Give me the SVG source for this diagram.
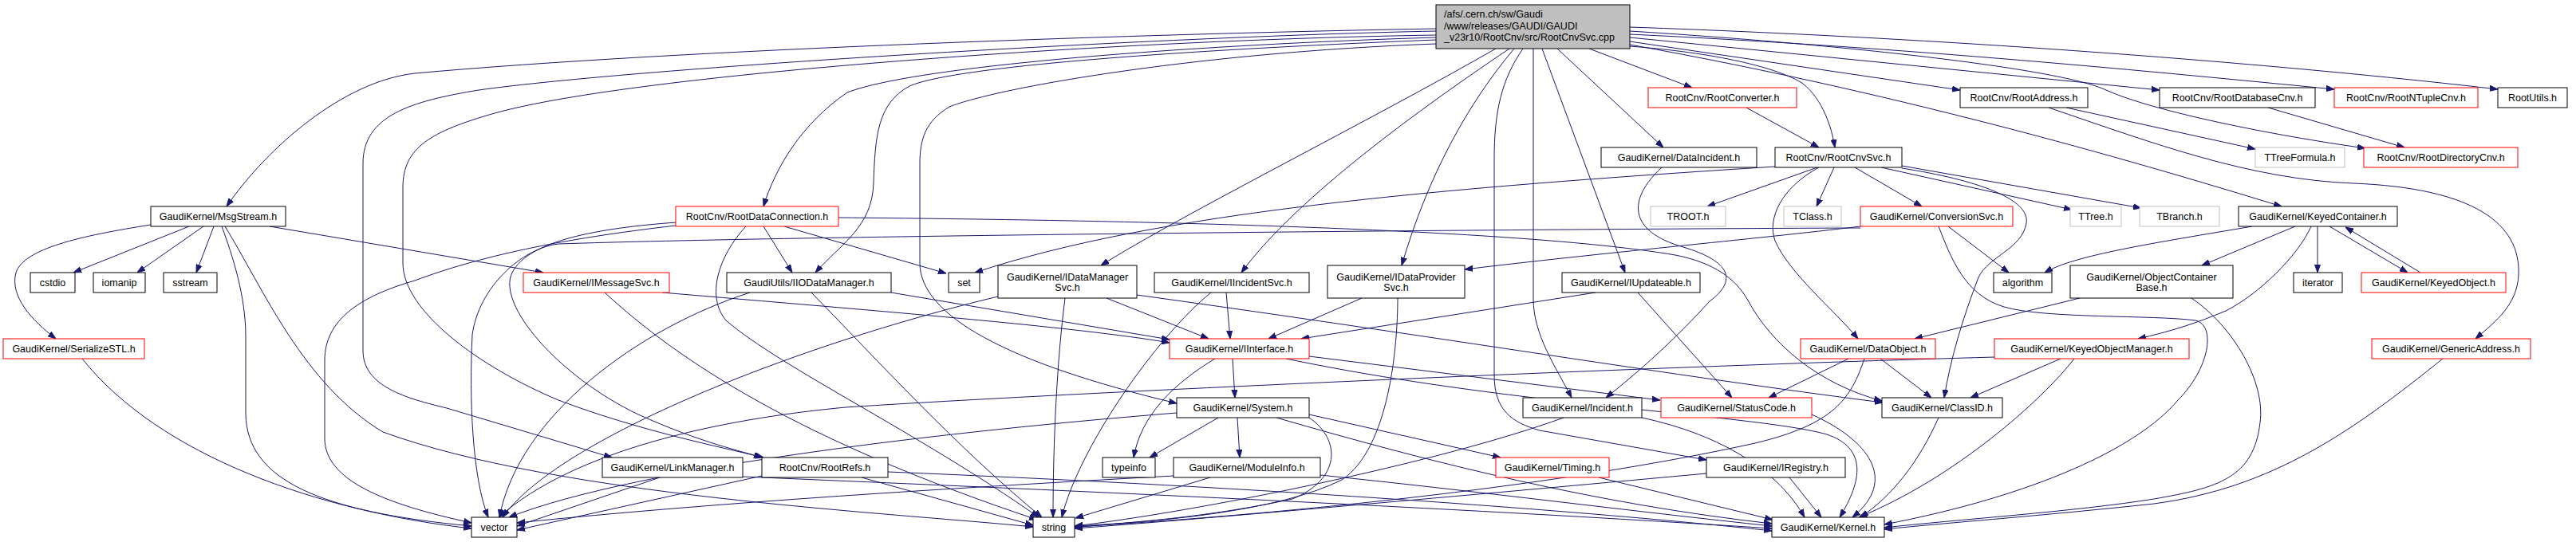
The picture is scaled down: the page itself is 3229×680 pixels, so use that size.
<svg xmlns="http://www.w3.org/2000/svg" width="3229" height="680" viewBox="0 0 3229 680">
<style>
.node rect{fill:#fff;stroke:#000;stroke-width:1}
.node.r rect{stroke:#ff0000}
.node.g rect{stroke:#bfbfbf}
.node.root rect{fill:#bfbfbf}
text{font-family:"Liberation Sans",Arial,Helvetica,sans-serif;font-size:12.5px;fill:#000;text-anchor:middle}
.node.root text{text-anchor:start}
#edges path{fill:none;stroke:#191970;stroke-width:1;marker-end:url(#a)}
</style>
<defs>
<marker id="a" markerWidth="10" markerHeight="8" refX="10" refY="4" orient="auto" markerUnits="userSpaceOnUse"><path d="M0,0.5 L10,4 L0,7.5 z" fill="#191970" stroke="#191970" stroke-width="1"/></marker>
</defs>
<rect width="3229" height="680" fill="#fff"/>
<g id="edges">
<path d="M1800,36 C1450,42 850,62 520,92 C430,102 335,185 284,259"/>
<path d="M1800,39 C1450,46 800,85 600,113 C515,127 455,145 455,205 L455,440 C455,485 510,500 560,512 L767,574"/>
<path d="M1800,44 C1400,50 800,92 620,142 C540,165 505,185 505,235 L505,330 C505,390 600,460 700,502 C800,540 900,560 957,574"/>
<path d="M1800,47 C1500,56 1150,82 1062,116 C1005,155 972,210 957,259"/>
<path d="M1800,50 C1500,62 1200,82 1140,108 C1100,130 1097,170 1095,230 C1093,285 1055,305 1022,342"/>
<path d="M1800,55 C1500,66 1250,110 1190,134 C1160,152 1153,175 1153,205 L1153,330 C1153,395 1260,455 1475,506"/>
<path d="M1875,61 C1720,150 1480,270 1380,333"/>
<path d="M1892,61 C1760,150 1620,255 1556,342"/>
<path d="M1898,61 C1840,130 1790,220 1757,333"/>
<path d="M1909,61 C1882,100 1873,140 1873,200 L1873,470 C1873,515 1895,530 1930,540 L2139,577"/>
<path d="M1922,61 L1922,375 C1922,420 1950,460 1970,499"/>
<path d="M1933,61 L2037,342"/>
<path d="M1952,61 L2085,185"/>
<path d="M1992,61 L2121,110"/>
<path d="M2043,58 C2150,66 2230,85 2260,105 C2285,125 2296,160 2300,185"/>
<path d="M2043,52 L2457,113"/>
<path d="M2043,47 L2707,113"/>
<path d="M2043,43 C2400,60 2700,90 2926,112"/>
<path d="M2043,34 C2500,50 2900,85 3131,112"/>
<path d="M2043,39 C2300,55 2580,85 2640,113 C2700,140 2850,170 2965,186"/>
<path d="M2043,56 C2400,120 2700,210 2860,259"/>
<path d="M2189,135 L2280,185"/>
<path d="M2590,135 L2827,187"/>
<path d="M2568,135 C2700,180 2820,225 2950,230 C3100,236 3160,280 3157,345 C3155,382 3130,402 3103,425"/>
<path d="M2843,135 L3014,185"/>
<path d="M2083,210 C2040,250 2040,290 2110,310 C2170,328 2178,352 2143,378 C2105,420 2060,462 2013,499"/>
<path d="M2278,210 L2140,259"/>
<path d="M2299,210 L2277,259"/>
<path d="M2325,210 L2409,259"/>
<path d="M2358,210 L2597,263"/>
<path d="M2384,208 L2684,261"/>
<path d="M2384,211 C2480,226 2545,250 2540,280 C2535,312 2492,322 2480,348 C2460,400 2445,450 2437,499"/>
<path d="M2280,210 C2232,236 2215,275 2225,302 C2242,342 2300,390 2329,425"/>
<path d="M2225,209 C1800,236 1450,266 1222,342"/>
<path d="M2332,284 C2200,300 2000,318 1836,338"/>
<path d="M2442,284 L2518,342"/>
<path d="M2332,286 C1800,288 1000,296 700,306 C655,311 600,360 592,420 C588,500 592,600 612,649"/>
<path d="M2430,284 C2445,322 2462,370 2512,385 C2562,400 2700,395 2752,402 C2778,408 2770,462 2730,502 C2680,562 2550,622 2362,658"/>
<path d="M2823,284 C2700,305 2600,320 2563,342"/>
<path d="M2877,284 L2760,333"/>
<path d="M2897,284 C2880,322 2830,370 2790,390 C2752,406 2720,416 2680,425"/>
<path d="M2905,284 L2905,342"/>
<path d="M2920,284 L3018,342"/>
<path d="M3034,342 L2940,285"/>
<path d="M2607,374 L2400,425"/>
<path d="M2747,374 C2800,410 2840,480 2833,530 C2825,600 2780,612 2700,626 C2600,642 2450,652 2362,662"/>
<path d="M2583,450 L2470,499"/>
<path d="M2600,450 C2560,502 2450,600 2330,649"/>
<path d="M2500,448 C2000,462 1300,495 1060,511 C900,526 720,565 625,649"/>
<path d="M3062,450 C2950,540 2850,612 2700,632 C2550,648 2450,655 2362,664"/>
<path d="M2317,450 L2217,499"/>
<path d="M2357,450 L2421,499"/>
<path d="M2337,450 C2320,500 2300,532 2200,556 C1900,622 1500,652 1347,661"/>
<path d="M2000,367 L1631,425"/>
<path d="M2053,367 L2171,499"/>
<path d="M1523,450 C1470,482 1430,522 1421,574"/>
<path d="M1545,450 L1548,499"/>
<path d="M1641,447 L2081,502"/>
<path d="M1612,450 C1900,510 2200,520 2290,545 C2340,562 2335,602 2306,649"/>
<path d="M1527,524 L1441,574"/>
<path d="M1551,524 L1554,574"/>
<path d="M1475,518 C1200,540 800,585 638,649"/>
<path d="M1641,520 L1881,574"/>
<path d="M1641,524 C1682,552 1680,602 1620,626 C1500,652 1400,656 1347,662"/>
<path d="M1600,524 C1800,582 2000,632 2221,657"/>
<path d="M1517,599 L1348,650"/>
<path d="M1471,597 C1200,612 900,630 648,656"/>
<path d="M1655,596 C1850,616 2050,642 2221,660"/>
<path d="M2004,599 L2222,652"/>
<path d="M1960,524 C1800,582 1500,642 1347,660"/>
<path d="M2058,524 C2160,546 2230,592 2262,649"/>
<path d="M2139,594 C1900,616 1500,652 1347,663"/>
<path d="M2243,599 L2283,649"/>
<path d="M2271,520 C2342,552 2380,602 2322,649"/>
<path d="M2430,524 C2405,580 2372,622 2332,649"/>
<path d="M827,599 L648,660"/>
<path d="M931,598 C1500,622 1900,642 2221,663"/>
<path d="M955,597 L648,665"/>
<path d="M1080,599 L1295,659"/>
<path d="M1113,592 C1600,612 2000,642 2221,666"/>
<path d="M1251,372 C1000,432 700,550 630,649"/>
<path d="M1335,374 C1325,452 1320,552 1320,649"/>
<path d="M1387,374 L1515,425"/>
<path d="M1425,370 C1800,422 2100,472 2360,505"/>
<path d="M1518,367 C1450,422 1352,562 1331,649"/>
<path d="M1537,367 L1542,425"/>
<path d="M1707,374 L1590,425"/>
<path d="M1752,374 C1752,432 1742,562 1682,602 C1602,642 1450,655 1347,660"/>
<path d="M830,367 C1100,390 1350,410 1466,430"/>
<path d="M758,367 C850,452 1000,552 1300,652"/>
<path d="M1117,367 L1466,426"/>
<path d="M940,367 C800,412 650,522 626,649"/>
<path d="M1017,367 C1100,452 1200,562 1306,649"/>
<path d="M957,284 L993,342"/>
<path d="M983,284 L1186,343"/>
<path d="M935,284 C900,322 885,372 910,402 C980,462 1150,542 1302,649"/>
<path d="M847,283 C700,300 600,322 520,352 C450,372 407,402 407,452 L407,550 C407,602 480,632 591,656"/>
<path d="M848,279 C750,286 662,302 642,342 C622,382 700,472 800,520 C880,556 930,566 955,574"/>
<path d="M1051,273 C1400,276 1900,286 2100,320 C2150,330 2175,350 2190,375 C2220,432 2280,482 2359,503"/>
<path d="M189,282 C100,296 30,312 20,342 C12,372 40,402 70,425"/>
<path d="M237,284 L92,342"/>
<path d="M255,284 L172,342"/>
<path d="M268,284 L246,342"/>
<path d="M278,284 C292,322 308,372 308,422 L308,520 C310,602 400,642 591,660"/>
<path d="M282,284 C330,362 380,482 480,542 C700,622 1100,642 1295,661"/>
<path d="M338,284 L681,342"/>
<path d="M103,450 C200,572 400,642 591,663"/>
</g>
<g id="n_root" class="node root"><rect x="1800" y="6" width="243" height="55"/><text x="1810" y="22">/afs/.cern.ch/sw/Gaudi</text><text x="1810" y="37">/www/releases/GAUDI/GAUDI</text><text x="1810" y="51">_v23r10/RootCnv/src/RootCnvSvc.cpp</text></g>
<g id="n_RootConverter" class="node r"><rect x="2066" y="110" width="186" height="25"/><text x="2159" y="127">RootCnv/RootConverter.h</text></g>
<g id="n_RootAddress" class="node"><rect x="2457" y="110" width="160" height="25"/><text x="2537" y="127">RootCnv/RootAddress.h</text></g>
<g id="n_RootDatabaseCnv" class="node"><rect x="2707" y="110" width="195" height="25"/><text x="2804.5" y="127">RootCnv/RootDatabaseCnv.h</text></g>
<g id="n_RootNTupleCnv" class="node r"><rect x="2926" y="110" width="180" height="25"/><text x="3016" y="127">RootCnv/RootNTupleCnv.h</text></g>
<g id="n_RootUtils" class="node"><rect x="3131" y="110" width="87" height="25"/><text x="3174.5" y="127">RootUtils.h</text></g>
<g id="n_DataIncident" class="node"><rect x="2007" y="185" width="195" height="25"/><text x="2104.5" y="202">GaudiKernel/DataIncident.h</text></g>
<g id="n_RootCnvSvc" class="node"><rect x="2225" y="185" width="159" height="25"/><text x="2304.5" y="202">RootCnv/RootCnvSvc.h</text></g>
<g id="n_TTreeFormula" class="node g"><rect x="2827" y="185" width="112" height="25"/><text x="2883" y="202">TTreeFormula.h</text></g>
<g id="n_RootDirectoryCnv" class="node r"><rect x="2963" y="185" width="193" height="25"/><text x="3059.5" y="202">RootCnv/RootDirectoryCnv.h</text></g>
<g id="n_MsgStream" class="node"><rect x="189" y="259" width="169" height="25"/><text x="273.5" y="276">GaudiKernel/MsgStream.h</text></g>
<g id="n_RootDataConnection" class="node r"><rect x="847" y="259" width="204" height="25"/><text x="949" y="276">RootCnv/RootDataConnection.h</text></g>
<g id="n_TROOT" class="node g"><rect x="2069" y="259" width="94" height="25"/><text x="2116" y="276">TROOT.h</text></g>
<g id="n_TClass" class="node g"><rect x="2236" y="259" width="72" height="25"/><text x="2272" y="276">TClass.h</text></g>
<g id="n_ConversionSvc" class="node r"><rect x="2332" y="259" width="191" height="25"/><text x="2427.5" y="276">GaudiKernel/ConversionSvc.h</text></g>
<g id="n_TTree" class="node g"><rect x="2595" y="259" width="64" height="25"/><text x="2627" y="276">TTree.h</text></g>
<g id="n_TBranch" class="node g"><rect x="2682" y="259" width="100" height="25"/><text x="2732" y="276">TBranch.h</text></g>
<g id="n_KeyedContainer" class="node"><rect x="2806" y="259" width="199" height="25"/><text x="2905.5" y="276">GaudiKernel/KeyedContainer.h</text></g>
<g id="n_cstdio" class="node"><rect x="38" y="342" width="56" height="25"/><text x="66" y="359">cstdio</text></g>
<g id="n_iomanip" class="node"><rect x="117" y="342" width="65" height="25"/><text x="149.5" y="359">iomanip</text></g>
<g id="n_sstream" class="node"><rect x="205" y="342" width="67" height="25"/><text x="238.5" y="359">sstream</text></g>
<g id="n_IMessageSvc" class="node r"><rect x="656" y="342" width="183" height="25"/><text x="747.5" y="359">GaudiKernel/IMessageSvc.h</text></g>
<g id="n_IIODataManager" class="node"><rect x="911" y="342" width="206" height="25"/><text x="1014" y="359">GaudiUtils/IIODataManager.h</text></g>
<g id="n_set" class="node"><rect x="1189" y="342" width="39" height="25"/><text x="1208.5" y="359">set</text></g>
<g id="n_IDataManagerSvc" class="node"><rect x="1251" y="333" width="174" height="41"/><text x="1338" y="351.5">GaudiKernel/IDataManager</text><text x="1338" y="365">Svc.h</text></g>
<g id="n_IIncidentSvc" class="node"><rect x="1447" y="342" width="194" height="25"/><text x="1544" y="359">GaudiKernel/IIncidentSvc.h</text></g>
<g id="n_IDataProviderSvc" class="node"><rect x="1664" y="333" width="172" height="41"/><text x="1750" y="351.5">GaudiKernel/IDataProvider</text><text x="1750" y="365">Svc.h</text></g>
<g id="n_IUpdateable" class="node"><rect x="1958" y="342" width="173" height="25"/><text x="2044.5" y="359">GaudiKernel/IUpdateable.h</text></g>
<g id="n_algorithm" class="node"><rect x="2499" y="342" width="73" height="25"/><text x="2535.5" y="359">algorithm</text></g>
<g id="n_ObjectContainerBase" class="node"><rect x="2595" y="333" width="204" height="41"/><text x="2697" y="351.5">GaudiKernel/ObjectContainer</text><text x="2697" y="365">Base.h</text></g>
<g id="n_iterator" class="node"><rect x="2875" y="342" width="61" height="25"/><text x="2905.5" y="359">iterator</text></g>
<g id="n_KeyedObject" class="node r"><rect x="2960" y="342" width="181" height="25"/><text x="3050.5" y="359">GaudiKernel/KeyedObject.h</text></g>
<g id="n_SerializeSTL" class="node r"><rect x="4" y="425" width="177" height="25"/><text x="92.5" y="442">GaudiKernel/SerializeSTL.h</text></g>
<g id="n_IInterface" class="node r"><rect x="1466" y="425" width="175" height="25"/><text x="1553.5" y="442">GaudiKernel/IInterface.h</text></g>
<g id="n_DataObject" class="node r"><rect x="2257" y="425" width="169" height="25"/><text x="2341.5" y="442">GaudiKernel/DataObject.h</text></g>
<g id="n_KeyedObjectManager" class="node r"><rect x="2500" y="425" width="244" height="25"/><text x="2622" y="442">GaudiKernel/KeyedObjectManager.h</text></g>
<g id="n_GenericAddress" class="node r"><rect x="2973" y="425" width="199" height="25"/><text x="3072.5" y="442">GaudiKernel/GenericAddress.h</text></g>
<g id="n_System" class="node"><rect x="1475" y="499" width="166" height="25"/><text x="1558" y="516">GaudiKernel/System.h</text></g>
<g id="n_Incident" class="node"><rect x="1909" y="499" width="149" height="25"/><text x="1983.5" y="516">GaudiKernel/Incident.h</text></g>
<g id="n_StatusCode" class="node r"><rect x="2082" y="499" width="189" height="25"/><text x="2176.5" y="516">GaudiKernel/StatusCode.h</text></g>
<g id="n_ClassID" class="node"><rect x="2359" y="499" width="151" height="25"/><text x="2434.5" y="516">GaudiKernel/ClassID.h</text></g>
<g id="n_LinkManager" class="node"><rect x="755" y="574" width="176" height="25"/><text x="843" y="591">GaudiKernel/LinkManager.h</text></g>
<g id="n_RootRefs" class="node"><rect x="955" y="574" width="158" height="25"/><text x="1034" y="591">RootCnv/RootRefs.h</text></g>
<g id="n_typeinfo" class="node"><rect x="1382" y="574" width="66" height="25"/><text x="1415" y="591">typeinfo</text></g>
<g id="n_ModuleInfo" class="node"><rect x="1471" y="574" width="184" height="25"/><text x="1563" y="591">GaudiKernel/ModuleInfo.h</text></g>
<g id="n_Timing" class="node r"><rect x="1875" y="574" width="142" height="25"/><text x="1946" y="591">GaudiKernel/Timing.h</text></g>
<g id="n_IRegistry" class="node"><rect x="2139" y="574" width="174" height="25"/><text x="2226" y="591">GaudiKernel/IRegistry.h</text></g>
<g id="n_vector" class="node"><rect x="591" y="649" width="57" height="25"/><text x="619.5" y="666">vector</text></g>
<g id="n_string" class="node"><rect x="1295" y="649" width="52" height="25"/><text x="1321" y="666">string</text></g>
<g id="n_Kernel" class="node"><rect x="2221" y="649" width="141" height="25"/><text x="2291.5" y="666">GaudiKernel/Kernel.h</text></g>
</svg>
